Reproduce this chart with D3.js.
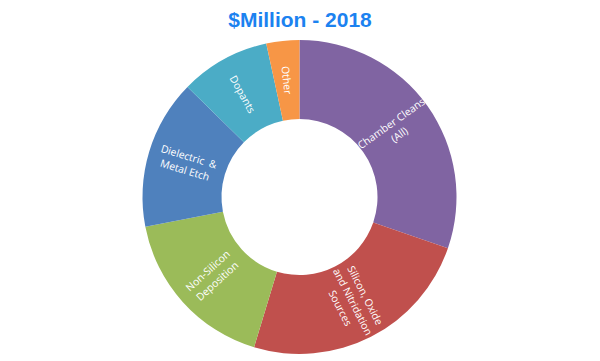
<!DOCTYPE html>
<html><head><meta charset="utf-8">
<script src="https://cdn.jsdelivr.net/npm/d3@7"></script>
<style>body{margin:0;background:#fff}</style>
</head><body>
<svg id="c" width="600" height="361"></svg>
<script>
const categories = ["Chamber Cleans (All)", "Silicon, Oxide and Nitridation Sources", "Non-Silicon Deposition", "Dielectric & Metal Etch", "Dopants", "Other"];
const labelLines = [["Chamber Cleans", "(All)"], ["Silicon, Oxide", "and Nitridation", "Sources"], ["Non-Silicon", "Deposition"], ["Dielectric \u00a0&", "Metal Etch"], ["Dopants"], ["Other"]];
const values = [30.3, 24.4, 17.3, 15.4, 9.25, 3.4];
const colors = ["#8064A2", "#C0504D", "#9BBB59", "#4F81BD", "#4BACC6", "#F79646"];
const title = "$Million - 2018";

const svg = d3.select("#c");
const cx = 299.5, cy = 197, R = 157, r = 78;

svg.append("text").attr("x", 300).attr("y", 27).attr("text-anchor", "middle")
  .attr("font-family", "Liberation Sans, Arial, sans-serif").attr("font-weight", "bold")
  .attr("font-size", 21).attr("fill", "#1C82F0").text(title);

const pie = d3.pie().sort(null).value(d => d);
const arcs = pie(values);
const arc = d3.arc().innerRadius(r).outerRadius(R);
const g = svg.append("g").attr("transform", `translate(${cx},${cy})`);
g.selectAll("path").data(arcs).join("path").attr("d", arc)
  .attr("fill", (d, i) => colors[i]);

const lr = (R + r) / 2;
arcs.forEach((d, i) => {
  const mid = (d.startAngle + d.endAngle) / 2;
  const deg = mid * 180 / Math.PI;
  const x = lr * Math.sin(mid), y = -lr * Math.cos(mid);
  const rot = deg < 180 ? deg - 90 : deg - 270;
  const lines = labelLines[i];
  const lh = 14;
  const t = g.append("text").attr("transform", `translate(${x},${y}) rotate(${rot})`)
    .attr("text-anchor", "middle").attr("fill", "#fff")
    .attr("font-family", "Open Sans, sans-serif").attr("font-size", 10.4);
  lines.forEach((ln, j) => {
    t.append("tspan").attr("x", 0).attr("y", (j - (lines.length - 1) / 2) * lh + 4).text(ln);
  });
});
</script>
</body></html>
